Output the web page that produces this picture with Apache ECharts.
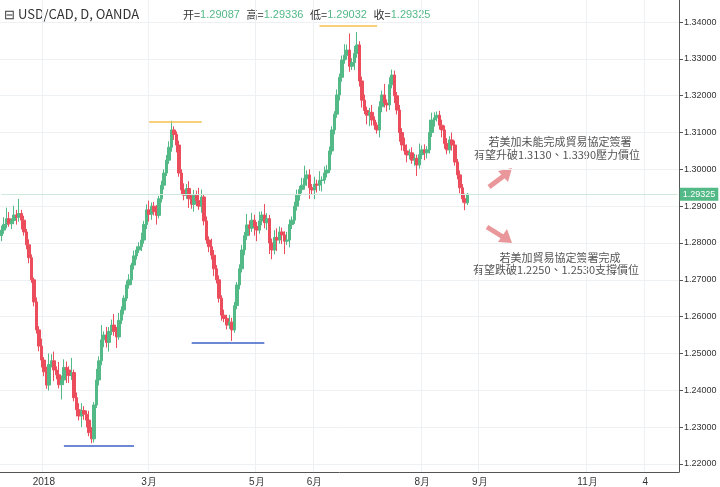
<!DOCTYPE html>
<html>
<head>
<meta charset="utf-8">
<script src="https://cdn.jsdelivr.net/npm/echarts@6/dist/echarts.min.js"></script>
<style>html,body{margin:0;padding:0;background:#fff}#main{width:720px;height:487px}</style>
</head>
<body>
<div id="main"></div>
<script>
// 日K收盘价
const closes = [
  1.2835,1.2850,1.2866,1.2852,1.2861,1.2876,1.2870,
  1.2880,1.2862,1.2830,1.2795,1.2760,1.2700,1.2640,1.2564,1.2520,1.2482,
  1.2450,1.2414,1.2470,1.2480,1.2455,1.2442,1.2415,1.2428,1.2462,1.2455,
  1.2440,1.2448,1.2380,1.2347,1.2330,1.2345,1.2335,1.2319,1.2285,1.2268,
  1.2360,1.2428,1.2480,1.2537,1.2550,1.2530,1.2560,1.2577,1.2560,1.2545,
  1.2590,1.2618,1.2650,1.2686,1.2700,1.2740,1.2765,1.2781,1.2790,1.2808,
  1.2850,1.2890,1.2878,1.2900,1.2885,1.2875,1.2920,1.2957,1.2990,1.3025,
  1.3060,1.3107,1.3095,1.3066,1.2990,1.2944,1.2930,1.2948,1.2920,1.2905,
  1.2930,1.2915,1.2900,1.2925,1.2860,1.2808,1.2790,1.2767,1.2730,1.2700,
  1.2650,1.2604,1.2595,1.2577,1.2585,1.2564,1.2630,1.2686,1.2730,1.2781,
  1.2820,1.2849,1.2840,1.2862,1.2845,1.2835,1.2860,1.2876,1.2855,1.2866,
  1.2800,1.2781,1.2815,1.2808,1.2830,1.2822,1.2805,1.2808,1.2850,1.2862,
  1.2900,1.2930,1.2945,1.2957,1.2975,1.2985,1.2950,1.2944,1.2960,1.2957,
  1.2970,1.2971,1.2990,1.2998,1.3050,1.3107,1.3150,1.3202,1.3250,1.3297,
  1.3310,1.3324,1.3280,1.3290,1.3315,1.3338,1.3240,1.3188,1.3160,1.3147,
  1.3155,1.3134,1.3120,1.3107,1.3170,1.3202,1.3180,1.3175,1.3230,1.3256,
  1.3200,1.3161,1.3100,1.3066,1.3050,1.3039,1.3045,1.3025,1.3030,1.3012,
  1.3040,1.3053,1.3045,1.3053,1.3100,1.3134,1.3140,1.3147,1.3120,1.3107,
  1.3070,1.3053,1.3080,1.3066,1.3020,1.2985,1.2950,1.2920,1.2909,1.29325
];
// 上影线长度 (点)
const hiWick = [
  12,20,30,18,6,25,14, 40,10,12,8,15,9,6,12,10,20,
  8,14,30,18,25,10,35,12,22,16, 10,40,8,14,18,20,12,10,25,15,
  8,30,12,40,10,22,12,15,30,12, 20,10,8,12,15,6,14,10,12,20,
  10,15,25,10,12,18,8,12,10,14, 16,25,10,8,12,10,18,12,20,10,
  14,12,35,20,8,12,10,22,14,10, 12,8,15,10,20,12,10,8,12,14,
  10,30,12,20,15,12,25,10,30,15, 10,12,20,25,15,12,10,22,14,10,
  12,15,10,20,35,12,15,10,20,12, 25,10,18,14,12,10,8,15,10,12,
  30,15,45,12,20,35,10,12,15,10, 12,20,10,8,15,12,30,10,20,15,
  12,10,14,12,20,18,10,15,12,10, 30,12,15,10,35,20,15,10,12,15,
  12,15,10,20,12,8,12,10,14,3
];
// 下影线长度 (点)
const loWick = [
  15,10,10,8,14,10,20, 12,25,10,12,15,8,12,10,14,20,
  12,10,15,8,30,12,10,40,14,35, 20,12,10,18,12,30,15,20,10,12,
  10,8,15,12,20,14,25,10,12,30, 8,10,12,8,10,14,12,10,8,12,
  10,12,20,15,10,25,8,10,12,8, 10,12,15,20,10,12,14,10,25,12,
  20,15,10,18,12,10,15,12,20,10, 12,15,10,12,10,30,8,10,12,10,
  14,12,20,10,25,30,10,12,15,20, 30,25,12,30,10,25,35,10,20,12,
  10,12,15,10,12,20,30,12,25,20, 15,30,10,12,8,10,12,10,15,12,
  10,12,15,10,20,12,15,20,10,25, 30,15,12,10,20,15,12,18,14,10,
  20,12,25,15,10,20,12,10,15,30, 10,12,20,15,10,12,18,10,12,20,
  14,12,10,15,10,12,15,10,20,6
];
const firstOpen = 1.2820;
const yTicks = [1.22,1.23,1.24,1.25,1.26,1.27,1.28,1.29,1.30,1.31,1.32,1.33,1.34];
const monthLabels = {'2018-01-02':'2018','2018-03-01':'3月','2018-05-01':'5月','2018-06-01':'6月',
  '2018-08-01':'8月','2018-09-03':'9月','2018-11-01':'11月','2018-12-04':'4'};
const lastPrice = 1.29325;

// 交易日
const dates = [];
const d = new Date(Date.UTC(2017, 11, 8));
while (d <= new Date(Date.UTC(2018, 11, 21))) {
  const w = d.getUTCDay();
  if (w !== 0 && w !== 6) dates.push(d.toISOString().slice(0, 10));
  d.setUTCDate(d.getUTCDate() + 1);
}

const kData = closes.map((c, i) => {
  const o = i === 0 ? firstOpen : closes[i - 1];
  return [o, c, Math.min(o, c) - loWick[i] / 10000, Math.max(o, c) + hiWick[i] / 10000];
});

const chart = echarts.init(document.getElementById('main'));
const green = '#53b987', red = '#eb4d5c';
const hLine = (from, to, v, color) => [
  { coord: [from, v], lineStyle: { color: color, type: 'solid', width: 1.5 } }, { coord: [to, v] }];
const option = {
  animation: false,
  grid: { left: 0, right: 41, top: 0, bottom: 15 },
  xAxis: {
    type: 'category', data: dates, boundaryGap: true,
    axisLine: { lineStyle: { color: '#555' } },
    axisTick: { show: false },
    axisLabel: {
      interval: (i, v) => !!monthLabels[v],
      formatter: v => monthLabels[v] || '',
      color: '#333', fontSize: 10, margin: 5
    },
    splitLine: { show: true, interval: (i, v) => !!monthLabels[v], lineStyle: { color: '#eef1f4' } }
  },
  yAxis: {
    type: 'value', position: 'right', min: 1.2178, max: 1.346, scale: true,
    axisLine: { show: true, lineStyle: { color: '#555' } },
    axisTick: { show: true, customValues: yTicks, length: 4 },
    axisLabel: { customValues: yTicks, formatter: v => v.toFixed(5), color: '#333', fontSize: 9, margin: 5 },
    splitLine: { show: true, lineStyle: { color: '#eef1f4' } }
  },
  series: [{
    type: 'candlestick', data: kData, barWidth: 3,
    itemStyle: { color: green, color0: red, borderColor: green, borderColor0: red, borderWidth: 1 },
    markLine: {
      silent: true, symbol: 'none',
      data: [
        hLine('2018-03-01', '2018-03-30', 1.3130, '#f5c14c'),
        hLine('2018-06-05', '2018-07-06', 1.3390, '#f5c14c'),
        hLine('2018-01-12', '2018-02-21', 1.2250, '#3b62c9'),
        hLine('2018-03-26', '2018-05-04', 1.2530, '#3b62c9'),
        [{ coord: [dates[0], lastPrice], lineStyle: { color: '#cfe8dc', type: 'solid', width: 1 },
           label: { show: true, position: 'end', distance: 2, formatter: '1.29325', color: '#fff',
             backgroundColor: green, padding: [2, 3], fontSize: 9 } },
         { coord: [dates[dates.length - 1], lastPrice] }]
      ]
    }
  }],
  graphic: [
    { type: 'text', left: 4, top: 8, style: { text: '⊟ USD/CAD, D, OANDA', fontSize: 13, fill: '#333', fontFamily: 'Noto Sans CJK SC' } },
    { type: 'text', left: 183, top: 9, style: {
      rich: { k: { fill: '#333', fontSize: 11, fontFamily: 'Noto Sans CJK SC' }, v: { fill: green, fontSize: 11 } },
      text: '{k|开=}{v|1.29087}  {k|高=}{v|1.29336}  {k|低=}{v|1.29032}  {k|收=}{v|1.29325}' } },
    { type: 'text', x: 560, y: 142, style: { text: '若美加未能完成貿易協定簽署', align: 'center', verticalAlign: 'middle', fontSize: 11, fill: '#555', fontFamily: 'Noto Sans CJK TC' } },
    { type: 'text', x: 557, y: 155, style: { text: '有望升破1.3130、1.3390壓力價位', align: 'center', verticalAlign: 'middle', fontSize: 11, fill: '#555', fontFamily: 'Noto Sans CJK TC' } },
    { type: 'text', x: 560, y: 258, style: { text: '若美加貿易協定簽署完成', align: 'center', verticalAlign: 'middle', fontSize: 11, fill: '#555', fontFamily: 'Noto Sans CJK TC' } },
    { type: 'text', x: 556, y: 270, style: { text: '有望跌破1.2250、1.2530支撐價位', align: 'center', verticalAlign: 'middle', fontSize: 11, fill: '#555', fontFamily: 'Noto Sans CJK TC' } },
    { type: 'line', shape: { x1: 489, y1: 187, x2: 505, y2: 175 }, style: { stroke: '#e9979a', lineWidth: 5 } },
    { type: 'polygon', shape: { points: [[512, 168], [498, 171], [508, 182]] }, style: { fill: '#e9979a' } },
    { type: 'line', shape: { x1: 487, y1: 227, x2: 503, y2: 237 }, style: { stroke: '#e9979a', lineWidth: 5 } },
    { type: 'polygon', shape: { points: [[512, 243], [507, 229], [498, 242]] }, style: { fill: '#e9979a' } }
  ]
};
chart.setOption(option);
</script>
</body>
</html>
